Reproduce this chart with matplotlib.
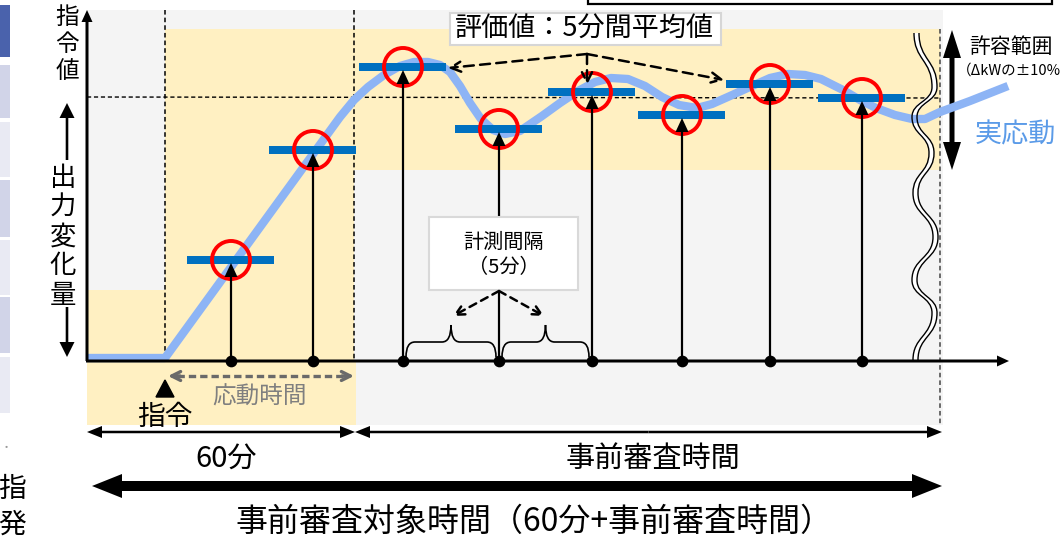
import matplotlib
matplotlib.use("Agg")
import matplotlib.pyplot as plt
from matplotlib.path import Path
from matplotlib.patches import PathPatch, Rectangle

plt.rcParams['font.family'] = ['Noto Sans CJK JP', 'DejaVu Sans']

# ---------------- data (diagram units; x = time position, y = output level, downward) -------------
meas_x = [231, 313, 403, 499, 592, 682, 770, 862]        # measurement points (every 5 min)
eval_y = [260, 150, 67, 129, 92, 115, 84, 98]            # 5-min average evaluation values
resp_x = [87, 165, 300, 340, 354, 368, 384, 400, 414, 428, 440, 450, 460, 470, 481, 493, 505,
          520, 542, 560, 578, 595, 611, 628, 645, 662, 679, 697, 712, 730, 752, 770, 788, 805,
          821, 843, 860, 876, 895, 912, 925, 940, 970, 1008]
resp_y = [358, 358, 172, 117, 100, 87, 75, 66, 62, 62, 65, 72, 86, 103, 119, 130, 134,
          131, 116, 103, 91, 82, 78, 79, 86, 97, 105, 108, 104, 96, 86, 78, 74, 75,
          79, 90, 100, 108, 115, 119, 119, 112, 101, 86]
command_level = 97
wave_y = [33, 87, 117, 153, 193, 237, 280, 313, 360]
wave_x = [914, 932, 912, 929, 913, 933, 912, 932, 913]

t_axis0, t_cmd, t_60, t_end = 87, 165, 354, 940
base_y = 361

label_ylabel_top = "指令値"
label_ylabel_mid = "出力変化量"
label_eval = "評価値：5分間平均値"
label_interval = "計測間隔\n（5分）"
label_resp_time = "応動時間"
label_cmd = "指令"
label_60 = "60分"
label_review = "事前審査時間"
label_total = "事前審査対象時間（60分+事前審査時間）"
label_range = "許容範囲"
label_range2 = "（ΔkWの±10%"
label_actual = "実応動"

BLUE_BAR = "#0070c0"
CURVE = "#8db4f5"
YELLOW = "#fff0c2"
GRAY = "#f4f4f4"

fig = plt.figure(figsize=(10.62, 5.48), dpi=100)
ax = fig.add_axes([0, 0, 1, 1])
ax.set_xlim(0, 1062)
ax.set_ylim(548, 0)
ax.axis('off')

# ---------------- left-edge fragments of neighbouring slide content ----------------
strips = [(5, 57, "#4a62ac"), (65, 118, "#d1d4e8"), (122, 177, "#e9eaf3"), (180, 237, "#d1d4e8"),
          (240, 295, "#e9eaf3"), (297, 353, "#d1d4e8"), (357, 413, "#e9eaf3")]
for y0, y1, c in strips:
    ax.add_patch(Rectangle((0, y0), 10, y1 - y0, fc=c, ec='none'))
ax.text(6, 448, "・", fontsize=8, color="#999999", ha='center', va='center')
ax.text(26, 489, "指", fontsize=20, ha='right', va='center')
ax.text(26, 525, "発", fontsize=20, ha='right', va='center')

# top-right box fragment
ax.add_patch(Rectangle((588, -20), 464, 24, fc='white', ec='black', lw=1.6))

# ---------------- background regions ----------------
ax.add_patch(Rectangle((87, 10), 856, 415, fc=GRAY, ec='none'))
ax.add_patch(Rectangle((t_cmd, 29), t_60 - t_cmd, base_y - 29, fc=YELLOW, ec='none'))
ax.add_patch(Rectangle((87, 290), t_cmd - 87, base_y - 290, fc=YELLOW, ec='none'))
ax.add_patch(Rectangle((87, base_y), t_60 + 2 - 87, 425 - base_y, fc=YELLOW, ec='none'))
ax.add_patch(Rectangle((t_60, 29), t_end - t_60, 170 - 29, fc=YELLOW, ec='none'))

# dashed guide lines
ax.plot([t_cmd, t_cmd], [10, base_y], color='k', lw=1.1, ls=(0, (3, 2)))
ax.plot([t_60, t_60], [10, base_y], color='k', lw=1.1, ls=(0, (3, 2)))
ax.plot([t_end, t_end], [29, 425], color='#444444', lw=1.1, ls=(0, (3, 2)))
ax.plot([87, t_end], [command_level, command_level + 1], color='k', lw=1.0, ls=(0, (3, 2)))

# ---------------- break symbol (white band) ----------------
def wave_path(dx):
    verts = [(wave_x[0] + dx, wave_y[0])]
    codes = [Path.MOVETO]
    for i in range(len(wave_y) - 1):
        ya, yb = wave_y[i], wave_y[i + 1]
        xa, xb = wave_x[i] + dx, wave_x[i + 1] + dx
        h = (yb - ya) * 0.5
        verts += [(xa, ya + h), (xb, yb - h), (xb, yb)]
        codes += [Path.CURVE4] * 3
    return Path(verts, codes)

ax.add_patch(PathPatch(wave_path(2.5), fc='none', ec='white', lw=4.0, zorder=3))

# ---------------- axes ----------------
ax.arrow(t_axis0, base_y, 0, 10 - base_y, width=3, head_width=11, head_length=12,
         length_includes_head=True, fc='k', ec='none', zorder=4)
ax.arrow(t_axis0 - 1, base_y, 1010 - t_axis0, 0, width=3, head_width=11, head_length=12,
         length_includes_head=True, fc='k', ec='none', zorder=4)

# measurement arrows
for x, y in zip(meas_x, eval_y):
    ax.arrow(x, base_y, 0, (y + 3) - base_y, width=2.2, head_width=13, head_length=14,
             length_includes_head=True, fc='k', ec='none', zorder=6)
ax.scatter(meas_x, [base_y] * len(meas_x), s=55, color='k', zorder=7)

# actual response curve
ax.plot(resp_x, resp_y, color=CURVE, lw=6, solid_joinstyle='round', solid_capstyle='butt', zorder=3.5)

# break symbol lines
ax.add_patch(PathPatch(wave_path(0), fc='none', ec='k', lw=1.0, zorder=4))
ax.add_patch(PathPatch(wave_path(5), fc='none', ec='k', lw=1.0, zorder=4))

# evaluation bars
ax.barh(eval_y, [87] * len(eval_y), left=[x - 44 for x in meas_x], height=8,
        color=BLUE_BAR, zorder=4.5)
# red circles
ax.scatter(meas_x, eval_y, s=750, facecolors='none', edgecolors='#ff0000', linewidths=2.8, zorder=5)

# ---------------- y-label ----------------
for i, ch in enumerate(label_ylabel_top):
    ax.text(67, 17 + i * 27.5, ch, fontsize=17, ha='center', va='center')
for i, ch in enumerate(label_ylabel_mid):
    ax.text(63, 178 + i * 29.3, ch, fontsize=19, ha='center', va='center')
ax.arrow(67, 160, 0, 103 - 160, width=2.6, head_width=15, head_length=15,
         length_includes_head=True, fc='k', ec='none')
ax.arrow(67, 307, 0, 357 - 307, width=2.6, head_width=15, head_length=15,
         length_includes_head=True, fc='k', ec='none')

# ---------------- evaluation label with dashed arrows ----------------
ax.add_patch(Rectangle((450, 13), 271, 32, fc='white', ec='#d6d6d6', lw=1.5, zorder=6))
ax.text(585, 29.5, label_eval, fontsize=19.5, ha='center', va='center', zorder=7)
origin = (587, 54)
for tip in [(448, 68), (587, 85), (724, 80)]:
    ax.annotate('', xy=tip, xytext=origin,
                arrowprops=dict(arrowstyle='->', lw=1.8, ls=(0, (4, 2.5)), color='k',
                                shrinkA=0, shrinkB=0, mutation_scale=18), zorder=7)

# ---------------- measurement interval label ----------------
ax.add_patch(Rectangle((429, 217), 149, 73, fc='white', ec='#d9d9d9', lw=1.5, zorder=6))
ax.text(503.5, 242, label_interval.split("\n")[0], fontsize=14.5, ha='center', va='center', zorder=7)
ax.text(503.5, 268, label_interval.split("\n")[1], fontsize=14.5, ha='center', va='center', zorder=7)
for tip in [(453, 316), (544, 316)]:
    ax.annotate('', xy=tip, xytext=(499, 291),
                arrowprops=dict(arrowstyle='->', lw=1.8, ls=(0, (3, 2.2)), color='k',
                                shrinkA=0, shrinkB=0, mutation_scale=16), zorder=7)

def brace(x0, x1, yb=357, ym=342, yt=325, r=9):
    xm = (x0 + x1) / 2
    verts = [(x0, yb), (x0, ym), (x0 + r, ym), (xm - r, ym), (xm, ym), (xm, yt),
             (xm, ym), (xm + r, ym), (x1 - r, ym), (x1, ym), (x1, yb)]
    codes = [Path.MOVETO, Path.CURVE3, Path.CURVE3, Path.LINETO, Path.CURVE3, Path.CURVE3,
             Path.CURVE3, Path.CURVE3, Path.LINETO, Path.CURVE3, Path.CURVE3]
    ax.add_patch(PathPatch(Path(verts, codes), fc='none', ec='k', lw=1.2, zorder=5))

brace(meas_x[2] + 3, meas_x[3] - 3)
brace(meas_x[3] + 3, meas_x[4] - 3)

# ---------------- command & response time ----------------
ax.fill([t_cmd - 9, t_cmd + 9, t_cmd], [397, 397, 380], color='k', zorder=5)
clip = Rectangle((0, 0), 1062, 427, transform=ax.transData)
t = ax.text(t_cmd, 417, label_cmd, fontsize=20, ha='center', va='center')
t.set_clip_path(clip)
ax.plot([177, 344], [376, 376], color='#6a6a6a', lw=2.4, ls=(0, (2.2, 1.2)))
for a, b in [((168, 376), (180, 376)), ((354, 376), (342, 376))]:
    ax.annotate('', xy=a, xytext=b,
                arrowprops=dict(arrowstyle='->', lw=2.4, color='#6a6a6a', shrinkA=0, shrinkB=0,
                                mutation_scale=16))
ax.text(260, 397, label_resp_time, fontsize=17, color='#7f7f7f', ha='center', va='center')

# ---------------- time span arrows ----------------
def dbl_arrow(x0, x1, y, width, hw, hl):
    xm = (x0 + x1) / 2
    for xe in (x0, x1):
        ax.arrow(xm, y, xe - xm, 0, width=width, head_width=hw, head_length=hl,
                 length_includes_head=True, fc='k', ec='none')

dbl_arrow(87, t_60 + 1, 432, 2.5, 12, 15)
dbl_arrow(t_60 + 1, 942, 432, 2.5, 12, 15)
ax.text(226, 459, label_60, fontsize=21, ha='center', va='center')
ax.text(653, 459, label_review, fontsize=21, ha='center', va='center')
dbl_arrow(92, 942, 486, 10, 24, 30)
ax.text(534, 522, label_total, fontsize=23, ha='center', va='center')

# ---------------- tolerance range ----------------
ym = (30 + 170) / 2
for ye in (30, 170):
    ax.arrow(952, ym, 0, ye - ym, width=5, head_width=18, head_length=28,
             length_includes_head=True, fc='k', ec='none')
ax.text(1011, 47, label_range, fontsize=15, ha='center', va='center')
ax.text(957, 71, label_range2, fontsize=10.5, ha='left', va='center')
ax.text(1015, 135, label_actual, fontsize=19.5, color='#5b9be8', ha='center', va='center')

fig.savefig("out.png", dpi=100)
